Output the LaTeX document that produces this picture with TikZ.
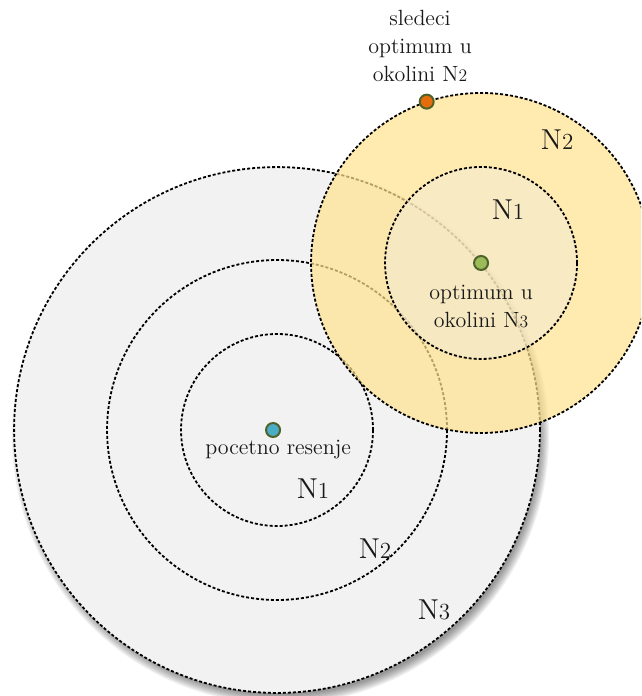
\documentclass[tikz,border=0pt]{standalone}
\usepackage{tikz}
\usetikzlibrary{positioning}
\definecolor{nbgray}{HTML}{F2F2F2}
\definecolor{nbyellow}{HTML}{FFE28E}
\definecolor{nbinner}{HTML}{F3EBD8}
\definecolor{nbblue}{HTML}{4BACC6}
\definecolor{nbgreen}{HTML}{9BBB59}
\definecolor{nborange}{HTML}{E46C0A}
\definecolor{nbrim}{HTML}{4F6228}
\newcommand{\nb}[1]{N\scalebox{0.8}{#1}}

\begin{document}
\begin{tikzpicture}[line width=0.9pt,
    ring/.style={dash pattern=on 1.5pt off 1pt},
    dot/.style={circle, draw=nbrim, line width=1pt, inner sep=0pt, minimum size=7pt},
    lbl/.style={font=\fontsize{11}{14}\selectfont, align=center, text=black!90},
    nlbl/.style={font=\Large, text=black!90}]
  \useasboundingbox (-4.868,-4.674) rectangle (6.397,7.556);
  \clip (-4.868,-4.674) rectangle (6.397,7.556);
  % soft shadow under the big circle
  \foreach \r in {4.56,4.58,...,4.74}
    \fill[black, opacity=0.055] (0.06,-0.1) circle (\r);
  % neighbourhoods of the start
  \filldraw[fill=nbgray, draw=black, ring] (0,0) circle (4.62);
  \draw[ring] (0,0) circle (2.987);
  \draw[ring] (0,0) circle (1.687);
  % neighbourhoods of the optimum
  \begin{scope}[shift={(3.585,2.935)}]
    \filldraw[fill=nbyellow, fill opacity=0.7, draw=black, ring] (0,0) circle (2.987);
    \filldraw[fill=nbinner, fill opacity=0.5, draw=black, ring] (0,0) circle (1.687);
  \end{scope}
  % points
  \node[dot, fill=nbblue] (start) at (-0.07,0) {};
  \node[dot, fill=nbgreen] (best) at (3.585,2.935) {};
  \node[dot, fill=nborange] (next) at (2.63,5.77) {};
  \node[lbl] (startlbl) at (0.02,-0.35) {pocetno resenje};
  \node[lbl] (bestlbl) at (3.585,2.179) {optimum u\\okolini \nb{3}};
  \node[lbl] (nextlbl) at (2.513,6.748) {sledeci\\optimum u\\okolini \nb{2}};
  % ring names
  \node[nlbl] (sone) at (0.633,-1.037) {\nb{1}};
  \node[nlbl] (stwo) at (1.722,-2.091) {\nb{2}};
  \node[nlbl] (sthree) at (2.759,-3.163) {\nb{3}};
  \node[nlbl] (bone) at (4.059,3.866) {\nb{1}};
  \node[nlbl] (btwo) at (4.921,5.096) {\nb{2}};
\end{tikzpicture}
\end{document}
